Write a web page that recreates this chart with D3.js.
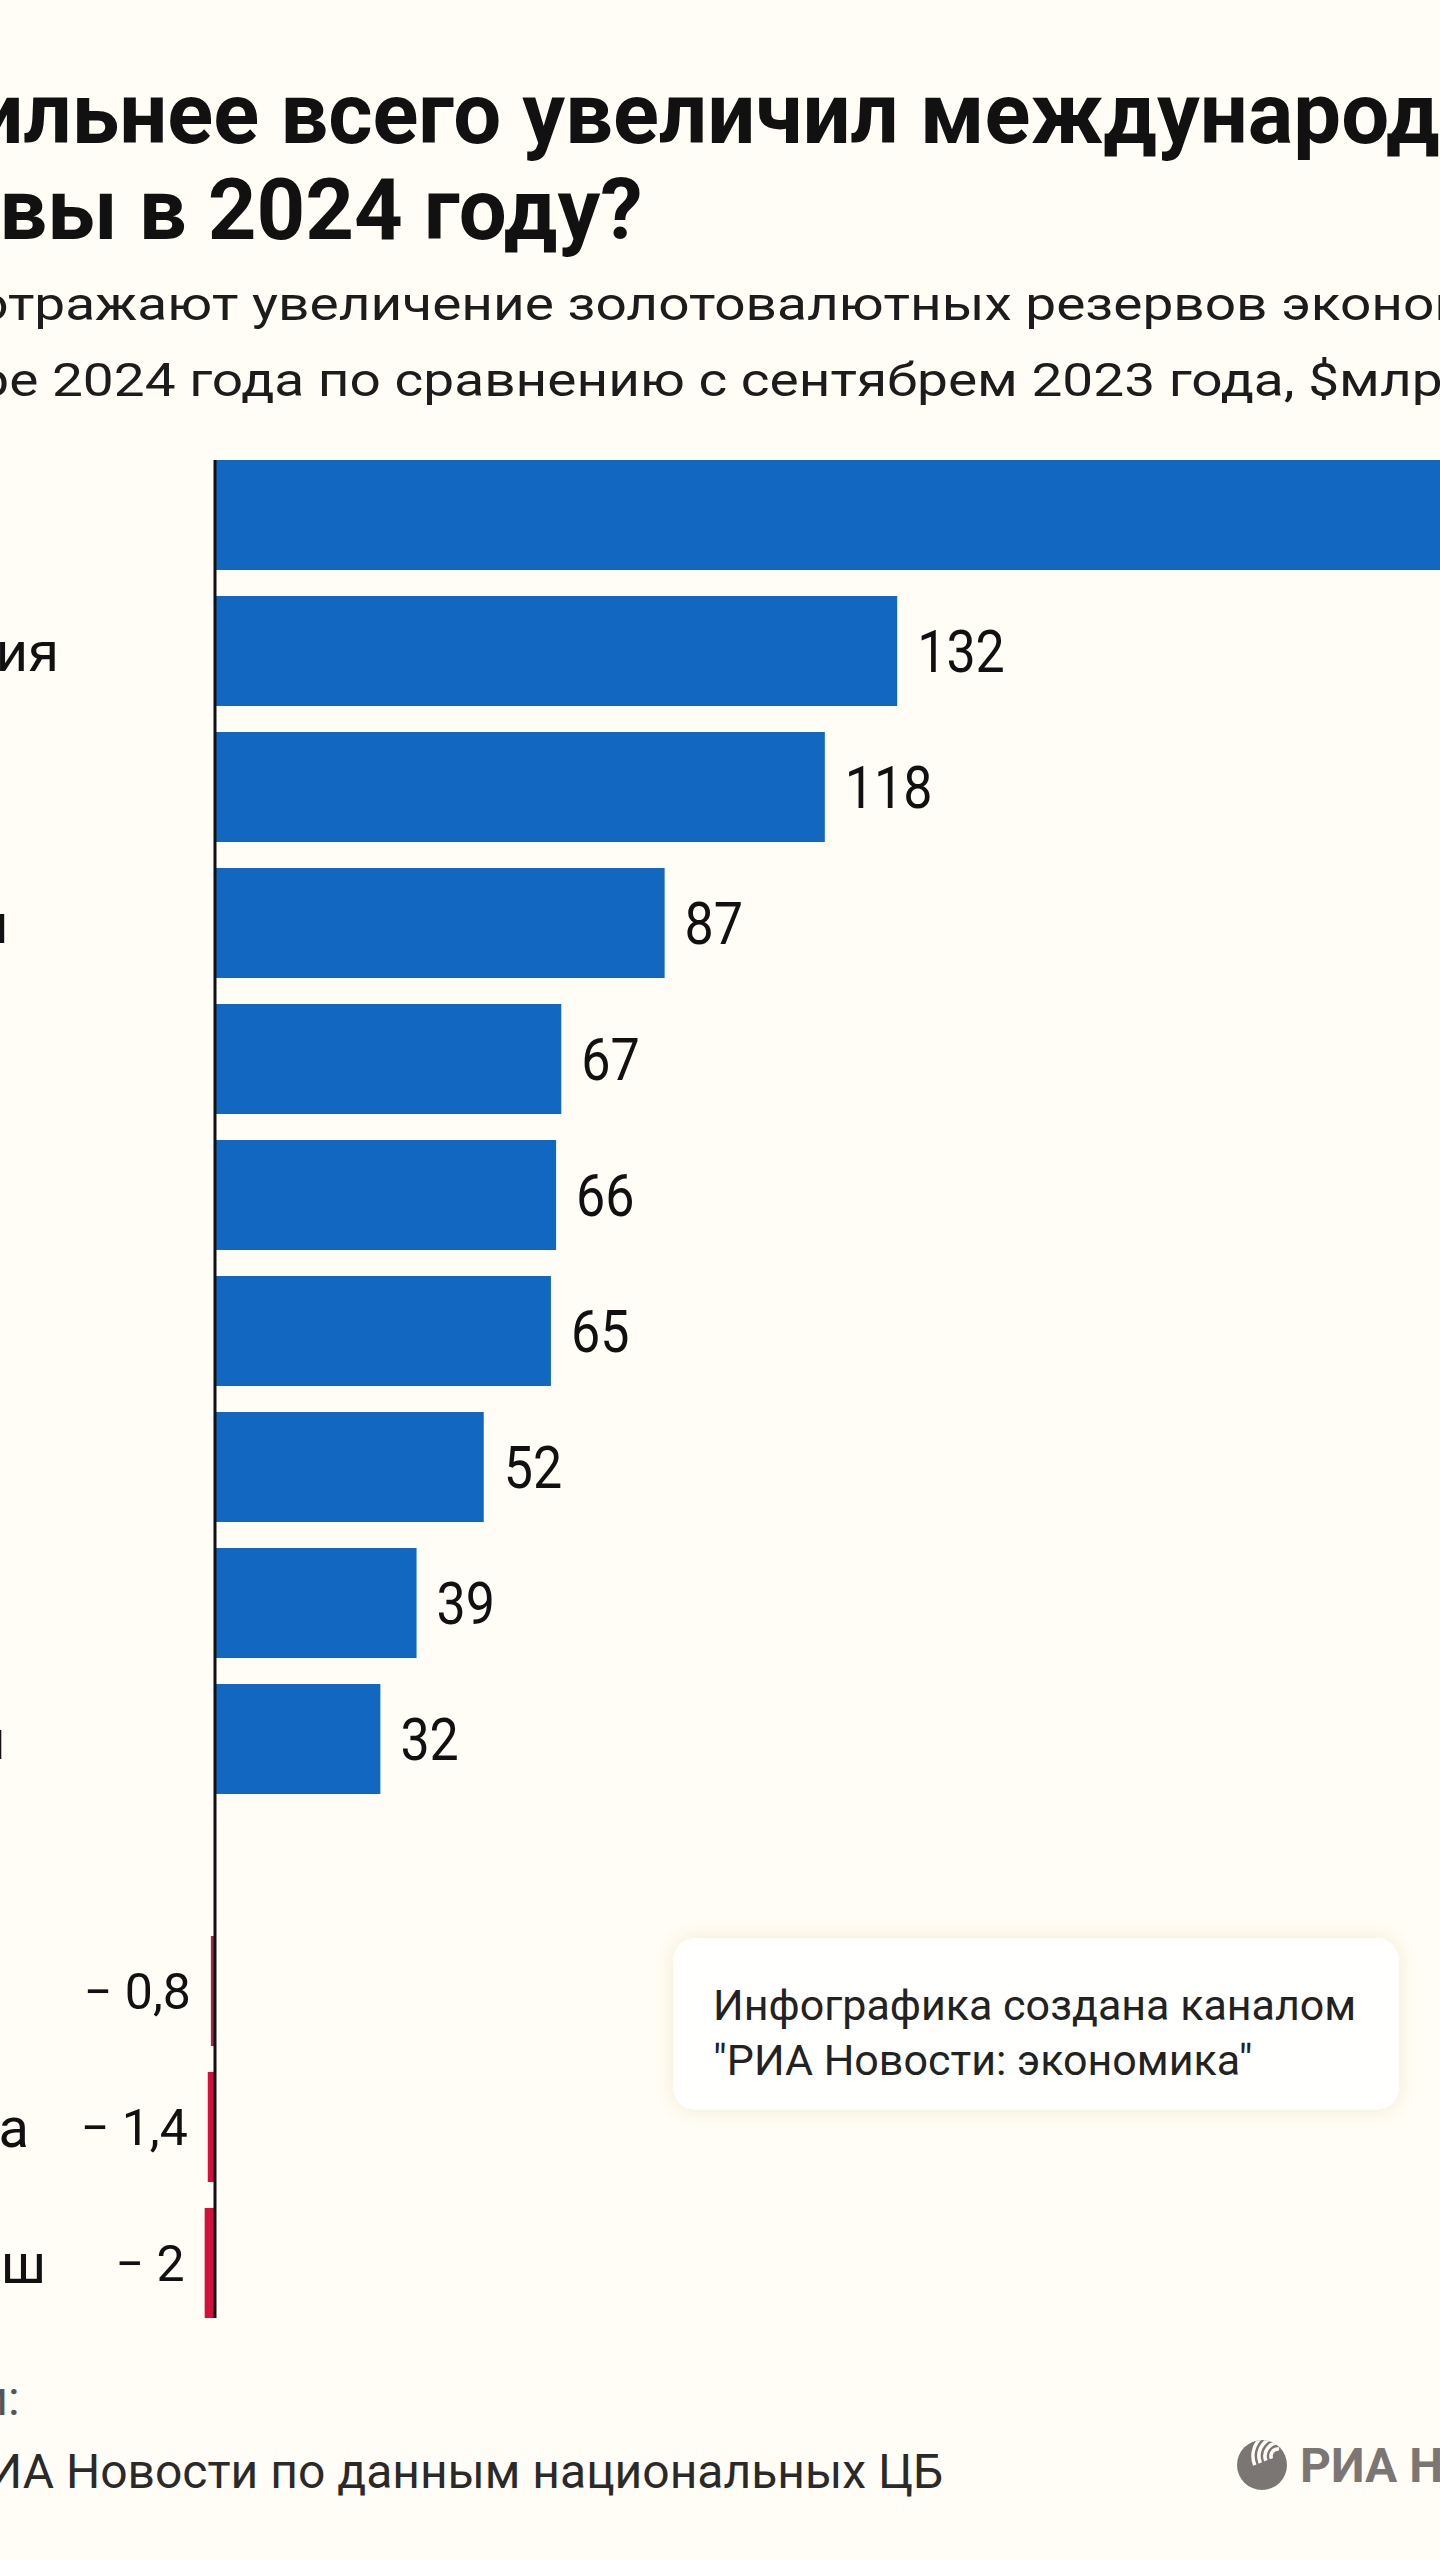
<!DOCTYPE html>
<html><head><meta charset="utf-8">
<script src="https://cdn.jsdelivr.net/npm/d3@7"></script>
<style>
html,body{margin:0;padding:0;background:#fffdf5;}
svg{display:block;}
text{font-family:Roboto,"Noto Sans",sans-serif;}
</style></head><body>
<svg id="chart" width="1440" height="2560"></svg>
<script>
// ---- data ----
const titleLines = ["Кто сильнее всего увеличил международные", "резервы в 2024 году?"];
const subtitleLines = ["Данные отражают увеличение золотовалютных резервов экономик",
                       "в сентябре 2024 года по сравнению с сентябрем 2023 года, $млрд"];
const countries = ["Китай","Швейцария","Индия","Германия","Россия","Италия","Франция",
                   "Польша","Турция","Пакистан","Украина","Аргентина","Бангладеш"];
const values = [254, 132, 118, 87, 67, 66, 65, 52, 39, 32, -0.8, -1.4, -2];
const noteLines = ["Инфографика создана каналом", "\"РИА Новости: экономика\""];
const sourceLines = ["Источники:", "расчеты РИА Новости по данным национальных ЦБ"];
const logoText = "РИА НОВОСТИ";

// ---- layout ----
const W = 1440, H = 2560;
const svg = d3.select("#chart");
svg.append("rect").attr("width", W).attr("height", H).attr("fill", "#fffdf5");

const rows = countries.map((c, i) => ({c, v: values[i]}));
const x = d3.scaleLinear().domain([0, 100]).range([215, 731.8]);
const groupGap = 116;
const y = d3.scaleBand().domain(countries).range([460, 460 + 136 * (countries.length - 26/136)])
  .paddingInner(26/136).paddingOuter(0);
const yTop = d => y(d.c) + (d.v < 0 ? groupGap : 0);
const bw = y.bandwidth();

const loc = d3.formatLocale({decimal: ",", thousands: " ", grouping: [3], currency: ["", "$"], minus: "−"});
const fmt = loc.format("~r");
const label = v => v < 0 ? "− " + fmt(-v) : fmt(v);

const negColor = d3.scaleLinear().domain([-0.8, -1.4]).range(["#9c2a50", "#d3103c"]).clamp(true);

// title
svg.append("g").selectAll("text").data(titleLines).join("text")
  .attr("x", -232).attr("y", (d, i) => 143 + i * 96)
  .attr("font-size", 85).attr("font-weight", 700).attr("fill", "#111")
  .text(d => d);

// subtitle (wide setting as in the original)
svg.append("g").attr("transform", "translate(-243,0) scale(1.17,1)")
  .selectAll("text").data(subtitleLines).join("text")
  .attr("x", 0).attr("y", (d, i) => 320 + i * 76)
  .attr("font-size", 47).attr("fill", "#1c1c1c")
  .text(d => d);

// bars
svg.append("g").selectAll("rect").data(rows).join("rect")
  .attr("x", d => x(Math.min(0, d.v)))
  .attr("y", d => yTop(d))
  .attr("width", d => Math.abs(x(d.v) - x(0)))
  .attr("height", bw)
  .attr("fill", d => d.v >= 0 ? "#1267c0" : negColor(d.v));

// axis line
const yStart = yTop(rows[0]), yEnd = yTop(rows[rows.length - 1]) + bw;
svg.append("line").attr("x1", x(0)).attr("x2", x(0)).attr("y1", yStart).attr("y2", yEnd)
  .attr("stroke", "#111").attr("stroke-width", 3);

// category labels
svg.append("g").selectAll("text").data(rows).join("text")
  .attr("x", -246).attr("y", d => yTop(d) + bw / 2 + 20)
  .attr("font-size", 56).attr("fill", "#111")
  .text(d => d.c);

// value labels
svg.append("g").selectAll("text").data(rows).join("text")
  .attr("transform", d => `translate(${d.v >= 0 ? x(d.v) + 20 : x(d.v) - 20},${yTop(d) + bw / 2 + (d.v >= 0 ? 21 : 18)}) scale(1,${d.v >= 0 ? 1.13 : 1})`)
  .attr("text-anchor", d => d.v >= 0 ? "start" : "end")
  .attr("font-size", d => d.v >= 0 ? 52 : 50).attr("fill", "#111")
  .text(d => label(d.v));

// note box
const defs = svg.append("defs");
const f = defs.append("filter").attr("id", "glow").attr("x", "-20%").attr("y", "-40%").attr("width", "140%").attr("height", "180%");
f.append("feDropShadow").attr("dx", 0).attr("dy", 0).attr("stdDeviation", 10).attr("flood-color", "#efe3c0").attr("flood-opacity", 0.7);
svg.append("rect").attr("x", 673).attr("y", 1938).attr("width", 726).attr("height", 172)
  .attr("rx", 22).attr("fill", "#fffffd").attr("filter", "url(#glow)");
svg.append("g").selectAll("text").data(noteLines).join("text")
  .attr("x", 713).attr("y", (d, i) => 2020 + i * 55)
  .attr("font-size", 43).attr("fill", "#222")
  .text(d => d);

// source
svg.append("g").selectAll("text").data(sourceLines).join("text")
  .attr("x", (d, i) => i === 0 ? -236 : -244).attr("y", (d, i) => 2415 + i * 73)
  .attr("font-size", 48).attr("fill", (d, i) => i === 0 ? "#555" : "#2a2a2a")
  .text(d => d);

// logo
const lg = svg.append("g");
const cx = 1262, cy = 2465, r = 25;
defs.append("clipPath").attr("id", "globe").append("circle").attr("cx", cx).attr("cy", cy).attr("r", r);
lg.append("circle").attr("cx", cx).attr("cy", cy).attr("r", r).attr("fill", "#7b7673");
const arcG = lg.append("g").attr("clip-path", "url(#globe)");
[7, 13, 19, 25].forEach(rr => {
  arcG.append("path")
    .attr("transform", `translate(${cx + 16},${cy - 9})`)
    .attr("d", d3.arc()({innerRadius: rr - 1.8, outerRadius: rr + 1.8, startAngle: -Math.PI * 0.62, endAngle: Math.PI * 0.05}))
    .attr("fill", "#fffdf5");
});
lg.append("text").attr("x", 1300).attr("y", 2482).attr("font-size", 48).attr("font-weight", 700)
  .attr("font-family", "'Open Sans',Roboto,sans-serif").attr("fill", "#7b7673").text(logoText);
</script>
</body></html>
